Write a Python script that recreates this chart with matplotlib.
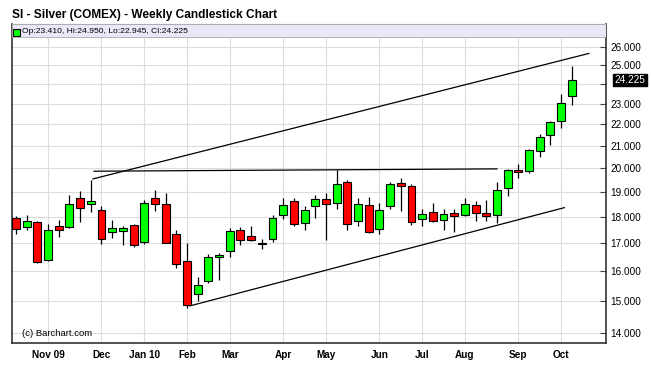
import matplotlib
matplotlib.use('Agg')
import matplotlib.pyplot as plt
from matplotlib.patches import Rectangle
from matplotlib.ticker import FixedLocator, FuncFormatter, NullLocator
import matplotlib.transforms as mtransforms

plt.rcParams['font.family'] = ['Liberation Sans', 'DejaVu Sans']

# ---- data (weekly OHLC, Oct 12 2009 .. Oct 11 2010) ----
opens = [17.97, 17.60, 17.81, 16.39, 17.67, 17.60, 18.75, 18.51, 18.28, 17.41,
         17.47, 17.70, 17.05, 18.75, 18.52, 17.36, 16.35, 15.25, 15.66, 16.49,
         16.74, 17.51, 17.26, 16.98, 17.16, 18.07, 18.65, 17.75, 18.43, 18.71,
         18.57, 19.40, 17.85, 18.49, 17.54, 18.45, 19.36, 19.25, 17.91, 18.19,
         17.89, 18.15, 18.07, 18.46, 18.14, 18.07, 19.15, 19.94, 19.87, 20.77,
         21.49, 22.15, 23.41]
highs = [18.04, 18.07, 17.85, 17.72, 17.89, 18.88, 19.04, 19.51, 18.44, 17.89,
         17.64, 17.72, 18.66, 19.08, 18.96, 17.52, 17.01, 15.79, 16.60, 16.64,
         17.57, 17.60, 17.67, 17.15, 18.08, 18.74, 18.74, 18.43, 18.88, 18.95,
         19.92, 19.50, 18.74, 18.80, 18.56, 19.43, 19.57, 19.33, 18.30, 18.57,
         18.31, 18.31, 18.76, 18.65, 18.67, 19.42, 19.96, 20.18, 20.85, 21.56,
         22.15, 23.50, 24.95]
lows = [17.35, 17.51, 16.28, 16.37, 17.22, 17.58, 17.81, 18.20, 16.98, 17.19,
        16.95, 16.87, 16.99, 18.24, 17.00, 16.12, 14.78, 15.02, 15.60, 15.71,
        16.49, 16.93, 17.10, 16.80, 17.05, 17.94, 17.67, 17.51, 17.97, 17.12,
        18.32, 17.52, 17.64, 17.38, 17.36, 18.30, 18.25, 17.68, 17.64, 17.79,
        17.52, 17.42, 18.04, 17.83, 17.86, 17.77, 18.86, 19.60, 19.82, 20.48,
        21.05, 21.85, 22.945]
closes = [17.54, 17.84, 16.34, 17.51, 17.50, 18.53, 18.37, 18.63, 17.16, 17.59,
          17.57, 16.96, 18.55, 18.51, 17.02, 16.25, 14.87, 15.52, 16.49, 16.59,
          17.48, 17.14, 17.11, 17.00, 17.95, 18.46, 17.73, 18.29, 18.71, 18.53,
          19.32, 17.73, 18.50, 17.42, 18.28, 19.33, 19.25, 17.79, 18.13, 17.85,
          18.13, 18.03, 18.50, 18.15, 18.03, 19.08, 19.94, 19.86, 20.82, 21.40,
          22.10, 23.06, 24.225]
month_labels = ['Nov 09', 'Dec', 'Jan 10', 'Feb', 'Mar', 'Apr', 'May', 'Jun',
                'Jul', 'Aug', 'Sep', 'Oct']
month_idx = [3, 8, 12, 16, 20, 25, 29, 34, 38, 42, 47, 51]
y_ticks = [14, 15, 16, 17, 18, 19, 20, 21, 22, 23, 24, 25, 26]
hidden_tick_label = 24
upper_x, upper_y = [7.2, 53.6], [19.55, 25.66]
resist_x, resist_y = [7.3, 45.0], [19.88, 19.98]
support_x, support_y = [16.3, 51.3], [14.85, 18.37]
legend_text = 'Op:23.410, Hi:24.950, Lo:22.945, Cl:24.225'
last_close = 24.225

W, H = 651, 369
fig = plt.figure(figsize=(W / 100, H / 100), dpi=100)
fig.patch.set_facecolor('white')
L, R, T, B = 11.5, 606, 24, 343
ax = fig.add_axes([L / W, 1 - B / H, (R - L) / W, (B - T) / H])
ax.set_yscale('log')
ax.set_ylim(13.70, 27.35)
ax.set_xlim(-0.42, 55.2)

# grid / ticks
ax.yaxis.set_major_locator(FixedLocator(y_ticks))
ax.yaxis.set_minor_locator(NullLocator())
ax.yaxis.set_major_formatter(
    FuncFormatter(lambda v, p: '' if abs(v - hidden_tick_label) < 1e-6 else '%.3f' % v))
ax.xaxis.set_major_locator(FixedLocator(month_idx))
ax.set_xticklabels(month_labels, fontweight='bold', fontsize=7.2)
ax.grid(True, color='#dddddd', lw=0.8, zorder=0)
ax.set_axisbelow(True)
ax.yaxis.tick_right()
ax.tick_params(axis='y', which='major', direction='in', length=4, width=0.8,
               color='#444444', labelsize=7.2, pad=3, right=True, left=False)
ax.tick_params(axis='x', length=0, pad=5)

for s in ['left', 'right', 'bottom']:
    ax.spines[s].set_color('#333333')
    ax.spines[s].set_linewidth(1.2)
ax.spines['top'].set_color('#999999')
ax.spines['top'].set_linewidth(0.8)

# candles
xs = list(range(len(opens)))
ax.vlines(xs, lows, highs, color='black', lw=0.9, zorder=2)
for i in xs:
    o, c = opens[i], closes[i]
    col = '#00ff00' if c >= o else '#ff0000'
    ax.bar(i, abs(c - o), bottom=min(o, c), width=0.74, color=col,
           edgecolor='black', linewidth=0.8, zorder=3)

# trend lines
for lx, ly in [(upper_x, upper_y), (resist_x, resist_y), (support_x, support_y)]:
    ax.plot(lx, ly, color='black', lw=0.9, zorder=4)

# legend band
ax.add_patch(Rectangle((0, 1 - 13 / (B - T)), 1, 13 / (B - T), transform=ax.transAxes,
                       facecolor='#e8e8f8', edgecolor='#aaaaaa', lw=0.6, zorder=5))
fig.patches.append(Rectangle((13 / W, 1 - 35.5 / H), 6.5 / W, 6.5 / H,
                             transform=fig.transFigure, facecolor='#00ff00',
                             edgecolor='black', lw=0.8, zorder=6))
fig.text(21.5 / W, 1 - 31.5 / H, legend_text, fontsize=6.1, va='center',
         ha='left', zorder=7)

# title
fig.text(11.5 / W, 1 - 15 / H, 'SI - Silver (COMEX) - Weekly Candlestick Chart',
         fontsize=8.6, fontweight='bold', va='center', ha='left')

# copyright
fig.text(21.5 / W, 1 - 333 / H, '(c) Barchart.com', fontsize=6.8, va='center', ha='left')

# last price marker
trans = mtransforms.blended_transform_factory(ax.transAxes, ax.transData)
ax.text(1 + 8.5 / (R - L), last_close, '%.3f' % last_close, transform=trans,
        fontsize=7.2, color='white', va='center', ha='left', zorder=8,
        bbox=dict(boxstyle='square,pad=0.12', facecolor='black', edgecolor='black'),
        clip_on=False)

fig.savefig('out.png', dpi=100)
